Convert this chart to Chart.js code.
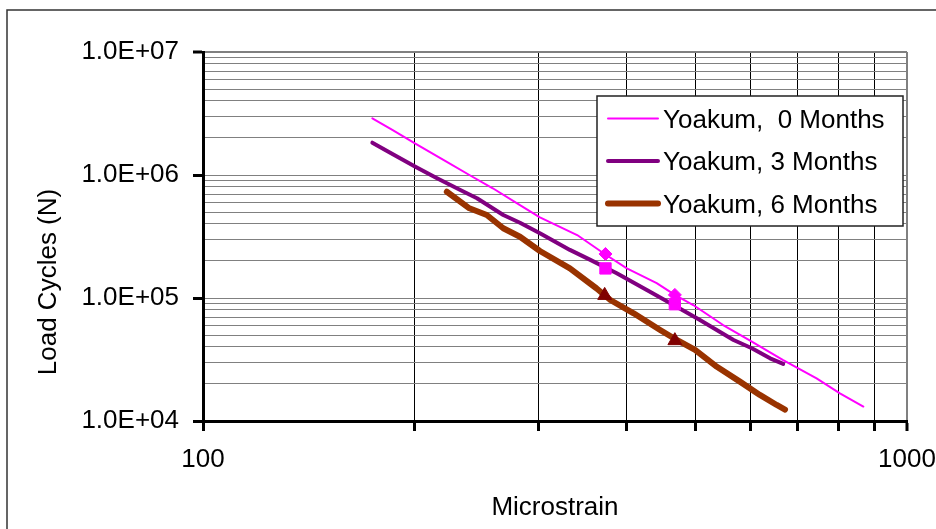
<!DOCTYPE html>
<html><head><meta charset="utf-8">
<script src="https://cdn.jsdelivr.net/npm/chart.js@4.4.1/dist/chart.umd.min.js"></script>
<style>html,body{margin:0;padding:0;background:#fff;overflow:hidden}#wrap{width:936px;height:529px;position:relative}canvas{display:block}</style>
</head><body><div id="wrap"><canvas id="c" width="936" height="529"></canvas></div>
<script>
// ---- data ----
const seriesNames = ['Yoakum,  0 Months', 'Yoakum, 3 Months', 'Yoakum, 6 Months'];
const seriesColors = ['#FF00FF', '#800080', '#993300'];

const strain0 = [174, 186, 200, 222, 239, 258, 282, 301, 340, 372, 400, 441, 468, 497, 548, 602, 667, 744, 803, 867];
const cycles0 = [2.89e6, 2.32e6, 1.81e6, 1.28e6, 1.0e6, 7.8e5, 5.7e5, 4.53e5, 3.25e5, 2.28e5, 1.74e5, 1.32e5, 1.06e5, 8.77e4, 6.03e4, 4.41e4, 3.13e4, 2.22e4, 1.68e4, 1.31e4];

const strain3 = [174, 185, 200, 215, 232, 245, 267, 282, 301, 332, 355, 387, 427, 466, 508, 567, 602, 639, 667];
const cycles3 = [1.83e6, 1.50e6, 1.17e6, 9.4e5, 7.55e5, 6.47e5, 4.73e5, 4.09e5, 3.36e5, 2.46e5, 2.04e5, 1.59e5, 1.16e5, 8.77e4, 6.63e4, 4.56e4, 3.9e4, 3.23e4, 2.91e4];

const strain6 = [222, 239, 253, 267, 282, 301, 332, 362, 379, 409, 446, 471, 500, 537, 579, 618, 653, 671];
const cycles6 = [7.31e5, 5.36e5, 4.73e5, 3.69e5, 3.15e5, 2.41e5, 1.74e5, 1.20e5, 9.63e4, 7.51e4, 5.50e4, 4.56e4, 3.78e4, 2.76e4, 2.09e4, 1.63e4, 1.35e4, 1.24e4];

// measured points (markers)
const diamondStrain = [373, 468];
const diamondCycles = [2.28e5, 1.06e5];
const squareStrain = [373, 468];
const squareCycles = [1.74e5, 8.9e4];
const triangleStrain = [372, 468];
const triangleCycles = [1.05e5, 4.5e4];

// axes
const xTicks = [100, 200, 300, 400, 500, 600, 700, 800, 900, 1000];
const xTickLabels = ['100', '', '', '', '', '', '', '', '', '1000'];
const yTicks = [1e4, 2e4, 3e4, 4e4, 5e4, 6e4, 7e4, 8e4, 9e4,
                1e5, 2e5, 3e5, 4e5, 5e5, 6e5, 7e5, 8e5, 9e5,
                1e6, 2e6, 3e6, 4e6, 5e6, 6e6, 7e6, 8e6, 9e6, 1e7];
const yMajorTicks = [1e4, 1e5, 1e6, 1e7];
const yTickLabels = ['1.0E+04', '1.0E+05', '1.0E+06', '1.0E+07'];
const xTitle = 'Microstrain';
const yTitle = 'Load Cycles (N)';

// ---- chart ----
const FONT = "'Liberation Sans', Arial, sans-serif";
const FS = 26;
Chart.defaults.font.family = FONT;
Chart.defaults.font.size = FS;
Chart.defaults.color = '#000';

const pts = (xs, ys) => xs.map((x, i) => ({x: x, y: ys[i]}));

const framePlugin = {
  id: 'frame',
  beforeDraw(chart) {
    const c = chart.ctx;
    c.save();
    c.fillStyle = '#fff';
    c.fillRect(0, 0, chart.width, chart.height);
    c.strokeStyle = '#333';
    c.lineWidth = 1.5;
    c.strokeRect(7, 10, chart.width + 50, chart.height + 50);
    c.restore();
  }
};

const yTitlePlugin = {
  id: 'ytitle',
  afterDraw(chart) {
    const c = chart.ctx;
    c.save();
    c.font = FS + 'px ' + FONT;
    c.fillStyle = '#000';
    c.translate(47, 282);
    c.rotate(-Math.PI / 2);
    c.textAlign = 'center';
    c.textBaseline = 'alphabetic';
    c.fillText(yTitle, 0, FS * 0.358);
    c.restore();
  }
};

const legendPlugin = {
  id: 'boxlegend',
  afterDraw(chart) {
    const a = chart.chartArea;
    const c = chart.ctx;
    const l = a.right - 310, r = a.right - 4, t = a.top + 44, b = a.top + 174;
    c.save();
    c.fillStyle = '#fff';
    c.fillRect(l, t, r - l, b - t);
    c.strokeStyle = '#222';
    c.lineWidth = 1.5;
    c.strokeRect(l, t, r - l, b - t);
    const widths = [2, 4, 6];
    const rowY = [t + 22.5, t + 65, t + 107.5];
    c.font = FS + 'px ' + FONT;
    c.textAlign = 'left';
    c.textBaseline = 'alphabetic';
    for (let i = 0; i < 3; i++) {
      c.beginPath();
      c.strokeStyle = seriesColors[i];
      c.lineWidth = widths[i];
      c.lineCap = 'round';
      c.moveTo(l + 11, rowY[i]);
      c.lineTo(l + 61, rowY[i]);
      c.stroke();
      c.fillStyle = '#000';
      c.fillText(seriesNames[i], l + 66, rowY[i] + FS * 0.358);
    }
    c.restore();
  }
};

const lineDs = (name, xs, ys, color, w, order) => ({
  label: name, data: pts(xs, ys), showLine: true, borderColor: color, backgroundColor: color,
  borderWidth: w, pointRadius: 0, pointHoverRadius: 0, tension: 0, order: order,
  borderCapStyle: 'round', borderJoinStyle: 'round'
});

new Chart(document.getElementById('c'), {
  type: 'scatter',
  data: {
    datasets: [
      {label: 'pts0', data: pts(diamondStrain, diamondCycles), showLine: false, pointStyle: 'rectRot',
       pointRadius: 6.5, backgroundColor: '#FF00FF', borderColor: '#FF00FF', borderWidth: 1, order: 0},
      {label: 'pts3', data: pts(squareStrain, squareCycles), showLine: false, pointStyle: 'rect',
       pointRadius: 8, backgroundColor: '#FF00FF', borderColor: '#FF00FF', borderWidth: 1, order: 0},
      {label: 'pts6', data: pts(triangleStrain, triangleCycles), showLine: false, pointStyle: 'triangle',
       pointRadius: 8, backgroundColor: '#800000', borderColor: '#800000', borderWidth: 1, order: 0},
      lineDs(seriesNames[0], strain0, cycles0, seriesColors[0], 2, 1),
      lineDs(seriesNames[1], strain3, cycles3, seriesColors[1], 4, 2),
      lineDs(seriesNames[2], strain6, cycles6, seriesColors[2], 6, 3)
    ]
  },
  options: {
    responsive: false, animation: false, devicePixelRatio: 1, events: [],
    layout: {padding: {left: 0, top: 52, right: 29, bottom: 0}},
    plugins: {legend: {display: false}, tooltip: {enabled: false}, title: {display: false}},
    scales: {
      x: {
        type: 'logarithmic', min: 100, max: 1000,
        afterBuildTicks: s => { s.ticks = xTicks.map(v => ({value: v})); },
        afterFit: s => { s.height = 108; s.paddingLeft = 0; s.paddingRight = 0; },
        ticks: {autoSkip: false, maxRotation: 0, minRotation: 0, padding: 13,
          callback: v => { const i = xTicks.indexOf(v); return i >= 0 ? xTickLabels[i] : ''; }},
        grid: {
          color: c => (c.tick && c.tick.value === 1000) ? '#808080' : '#000',
          lineWidth: c => (c.tick && c.tick.value === 1000) ? 2 : 1,
          tickLength: 10, tickWidth: 3, tickColor: '#000'
        },
        border: {color: '#000', width: 3},
        title: {display: true, text: xTitle, padding: {top: 0, bottom: 6}, font: {size: FS}}
      },
      y: {
        type: 'logarithmic', min: 1e4, max: 1e7,
        afterBuildTicks: s => { s.ticks = yTicks.map(v => ({value: v})); },
        afterFit: s => { s.width = 203; s.paddingTop = 0; s.paddingBottom = 0; },
        ticks: {autoSkip: false, padding: 14,
          callback: v => { const i = yMajorTicks.indexOf(v); return i >= 0 ? yTickLabels[i] : ''; }},
        grid: {
          color: '#808080',
          lineWidth: c => (c.tick && c.tick.value === 1e7) ? 2 : 1,
          tickLength: 10, tickWidth: 3,
          tickColor: c => (c.tick && yMajorTicks.indexOf(c.tick.value) >= 0) ? '#000' : 'rgba(0,0,0,0)'
        },
        border: {color: '#000', width: 3}
      }
    }
  },
  plugins: [framePlugin, yTitlePlugin, legendPlugin]
});
</script>
</body></html>
